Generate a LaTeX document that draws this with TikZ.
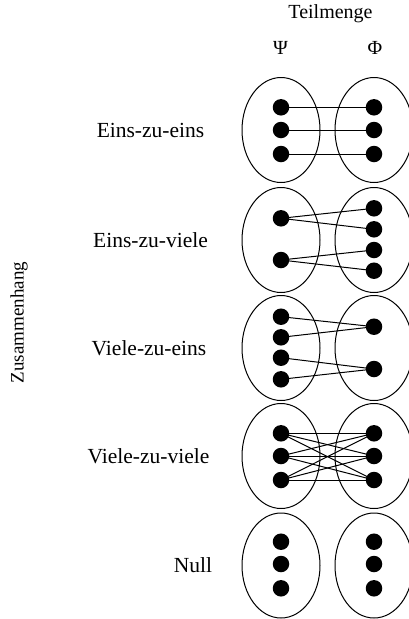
\documentclass[tikz,border=0pt]{standalone}
\usepackage{fontspec}
\setmainfont{Liberation Serif}
\usetikzlibrary{shapes.geometric}
\begin{document}
\begin{tikzpicture}[x=1pt,y=-1pt,
  setbox/.style={draw, line width=1pt, ellipse, minimum width=78pt, minimum height=105pt, inner sep=0pt},
  elem/.style={circle, fill=black, minimum size=16.5pt, inner sep=0pt},
  link/.style={line width=1pt},
  lbl/.style={font=\fontsize{21.5}{25}\selectfont, inner sep=0pt}]
\useasboundingbox (0,0) rectangle (409,619);

% headings
\node[lbl, font=\fontsize{20}{24}\selectfont] (head) at (330.5,14) {Teilmenge};
\node[lbl, font=\fontsize{20}{24}\selectfont] (psi) at (280.5,48) {Ψ};
\node[lbl, font=\fontsize{20}{24}\selectfont] (phi) at (375,48) {Φ};
\node[lbl, font=\fontsize{19}{23}\selectfont, rotate=90] (side) at (19,322.5) {Zusammenhang};

% row labels
\node[lbl] (l1) at (150.5,130) {Eins-zu-eins};
\node[lbl] (l2) at (150.5,240) {Eins-zu-viele};
\node[lbl] (l3) at (149,348) {Viele-zu-eins};
\node[lbl] (l4) at (148.5,456) {Viele-zu-viele};
\node[lbl] (l5) at (193,565) {Null};

% set ellipses
\foreach \r/\y in {1/130,2/240,3/348,4/456,5/565.5}{
  \node[setbox] (L\r) at (281,\y) {};
  \node[setbox] (R\r) at (374,\y) {};
}

% element positions
% row 1: one-to-one
\coordinate (a11) at (281,107.3); \coordinate (a12) at (281,130); \coordinate (a13) at (281,154);
\coordinate (b11) at (374,107.3); \coordinate (b12) at (374,130); \coordinate (b13) at (374,154);
% row 2: one-to-many
\coordinate (a21) at (281,218.3); \coordinate (a22) at (281,260);
\coordinate (b21) at (374,208.3); \coordinate (b22) at (374,229.3); \coordinate (b23) at (374,250); \coordinate (b24) at (374,270.7);
% row 3: many-to-one
\coordinate (a31) at (281,316.7); \coordinate (a32) at (281,337.3); \coordinate (a33) at (281,357.7); \coordinate (a34) at (281,379.3);
\coordinate (b31) at (374,326.7); \coordinate (b32) at (374,369);
% row 4: many-to-many
\coordinate (a41) at (281,433.3); \coordinate (a42) at (281,456); \coordinate (a43) at (281,480);
\coordinate (b41) at (374,433.3); \coordinate (b42) at (374,456); \coordinate (b43) at (374,480);
% row 5: no relation
\coordinate (a51) at (281,541.7); \coordinate (a52) at (281,564); \coordinate (a53) at (281,588.3);
\coordinate (b51) at (374,541.7); \coordinate (b52) at (374,564); \coordinate (b53) at (374,588.3);

% connectors first, dots on top
\draw[link] (a11) -- (b11) (a12) -- (b12) (a13) -- (b13);
\draw[link] (a21) -- (b21) (a21) -- (b22) (a22) -- (b23) (a22) -- (b24);
\draw[link] (a31) -- (b31) (a32) -- (b31) (a33) -- (b32) (a34) -- (b32);
\foreach \i in {1,2,3}{\foreach \j in {1,2,3}{\draw[link] (a4\i) -- (b4\j);}}

\foreach \p in {a11,a12,a13,b11,b12,b13,a21,a22,b21,b22,b23,b24,
                a31,a32,a33,a34,b31,b32,a41,a42,a43,b41,b42,b43,
                a51,a52,a53,b51,b52,b53}{
  \node[elem] at (\p) {};
}
\end{tikzpicture}
\end{document}
